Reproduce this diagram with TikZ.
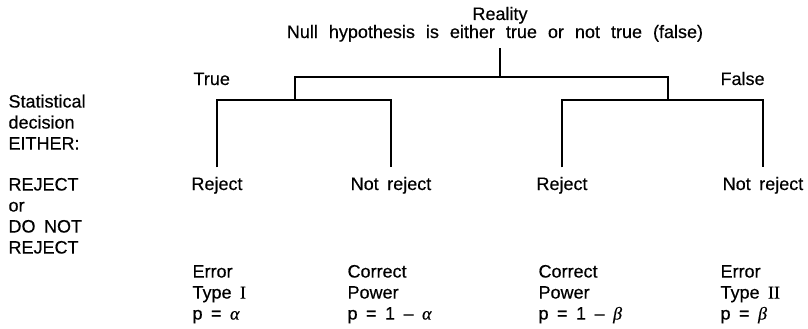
\documentclass[tikz,border=0pt]{standalone}
\usepackage{fontspec}
\setmainfont{Liberation Sans}[WordSpace=1.7,FakeBold=0.4]
\newfontfamily\widefont{Liberation Sans}[WordSpace=2.2,FakeBold=0.4]
\newfontfamily\serifI{Liberation Serif}[FakeBold=0.4]
\newcommand{\greek}[1]{{\serifI\itshape #1}}
\newcommand{\fl}{\rule{0pt}{14pt}}
\begin{document}
\begin{tikzpicture}[x=1pt,y=-1pt,line width=1.1pt,
  every node/.style={font=\fontsize{18}{21}\selectfont},
  txt/.style={inner sep=0pt,anchor=base west},
  blk/.style={inner sep=0pt,anchor=north west,align=left},
  dec/.style={inner xsep=0pt,inner ysep=9pt,anchor=base}]
\useasboundingbox (0,0) rectangle (808,329);
\node[anchor=base,inner sep=0pt] (reality) at (500,20) {Reality};
\node[anchor=base,inner xsep=0pt,inner ysep=6pt,font=\fontsize{18}{21}\widefont] (null) at (495,38) {Null hypothesis is either true or not true (false)};
\node[txt] (true) at (193,85) {True};
\node[txt] (false) at (720,85) {False};
\node[blk] (stat) at (8,93) {\fl Statistical\\decision\\EITHER:};
\node[blk] (rejdo) at (8,176) {\fl REJECT\\or\\DO NOT\\REJECT};
\node[dec] (r1) at (217,190) {Reject};
\node[dec] (n1) at (391,190) {Not reject};
\node[dec] (r2) at (562,190) {Reject};
\node[dec] (n2) at (763,190) {Not reject};
\node[blk] (o1) at (192,263) {\fl Error\\Type {\serifI I}\\p = \greek{α}};
\node[blk] (o2) at (347,263) {\fl Correct\\Power\\p = 1 – \greek{α}};
\node[blk] (o3) at (538,263) {\fl Correct\\Power\\p = 1 – \greek{β}};
\node[blk] (o4) at (720,263) {\fl Error\\Type {\serifI II}\\p = \greek{β}};
\coordinate (top) at (500,77);
\coordinate (jT) at (295,100);
\coordinate (jF) at (668,100);
\draw (null.south -| top) -- (top);
\draw (jT) |- (top) -| (jF);
\draw (r1.north) |- (jT) -| (n1.north);
\draw (r2.north) |- (jF) -| (n2.north);
\end{tikzpicture}
\end{document}
